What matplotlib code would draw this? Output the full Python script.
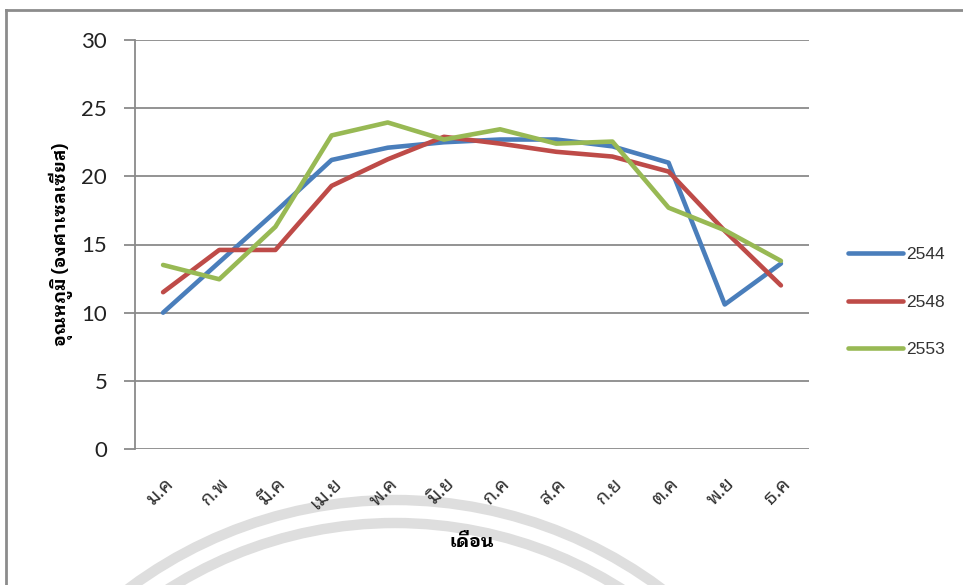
import matplotlib
matplotlib.use("Agg")
import matplotlib.pyplot as plt
from matplotlib.lines import Line2D
from matplotlib.patches import Arc

months = ["ม.ค", "ก.พ", "มี.ค", "เม.ย", "พ.ค", "มิ.ย", "ก.ค", "ส.ค", "ก.ย", "ต.ค", "พ.ย", "ธ.ค"]
temp_2544 = [10.0, 13.7, 17.4, 21.2, 22.1, 22.5, 22.7, 22.7, 22.2, 21.0, 10.6, 13.6]
temp_2548 = [11.5, 14.6, 14.6, 19.3, 21.25, 22.9, 22.4, 21.8, 21.45, 20.35, 16.0, 12.0]
temp_2553 = [13.5, 12.45, 16.3, 23.0, 23.95, 22.7, 23.45, 22.4, 22.55, 17.7, 16.05, 13.8]
years = ["2544", "2548", "2553"]
colors = ["#4a7ebb", "#be4b48", "#98b954"]
yticks = [0, 5, 10, 15, 20, 25, 30]

thai = ["Noto Sans Thai Looped", "Noto Sans Thai", "DejaVu Sans"]
thai_bold = ["IBM Plex Sans Thai Looped", "Noto Sans Thai Looped", "DejaVu Sans"]
W, H = 963, 585

fig = plt.figure(figsize=(W / 100, H / 100), dpi=100)

# watermark rings behind the chart
bg = fig.add_axes([0, 0, 1, 1], zorder=-5)
bg.set_xlim(0, W)
bg.set_ylim(H, 0)
bg.axis("off")
for r in (445, 422):
    bg.add_patch(Arc((395, 945), 2 * r, 2 * r, theta1=180, theta2=360,
                     color="#dedede", lw=7.5))
# chart frame (top and left edges)
bg.plot([6, W], [10, 10], color="#8c8c8c", lw=2)
bg.plot([6, 6], [10, H], color="#8c8c8c", lw=2)

ax = fig.add_axes([135 / W, 1 - 449 / H, (809 - 135) / W, (449 - 40) / H])
ax.patch.set_alpha(0)
x = list(range(len(months)))
for vals, c, lab in zip([temp_2544, temp_2548, temp_2553], colors, years):
    ax.plot(x, vals, color=c, lw=3.3, label=lab, solid_joinstyle="round",
            solid_capstyle="round", zorder=3)

ax.set_xlim(-0.5, len(months) - 0.5)
ax.set_ylim(0, 30)
ax.set_yticks(yticks)
ax.yaxis.grid(True, color="#8a8a8a", lw=1.3)
ax.set_axisbelow(True)
for s in ("top", "right", "bottom"):
    ax.spines[s].set_visible(False)
ax.spines["left"].set_color("#8a8a8a")
ax.spines["left"].set_linewidth(1.3)
ax.tick_params(axis="y", length=8, width=1.3, color="#8a8a8a", pad=12,
               labelsize=16, labelcolor="#222222")
for t in ax.get_yticklabels():
    t.set_family(["Lato", "DejaVu Sans"])

ax.set_xticks(x)
ax.set_xticklabels(months, rotation=45, ha="right", va="top",
                   rotation_mode="anchor", family=thai, fontsize=14, color="#333333")
ax.tick_params(axis="x", length=0, pad=18)

ax.set_ylabel("อุณหภูมิ (องศาเซลเซียส)", family=thai_bold, fontsize=13,
              fontweight="bold", labelpad=6)
ax.set_xlabel("เดือน", family=thai_bold, fontsize=13, fontweight="bold", labelpad=14)

handles = [Line2D([], [], color=c, lw=3.3, solid_capstyle="round") for c in colors]
fig.legend(handles, years, loc="center left", bbox_to_anchor=(848 / W, 1 - 302 / H),
           frameon=False, borderpad=0, borderaxespad=0, handlelength=3.15,
           handletextpad=0.2, labelspacing=1.86,
           prop={"family": "Liberation Sans", "size": 12.5}, labelcolor="#333333")

fig.savefig("out.png", dpi=100)
